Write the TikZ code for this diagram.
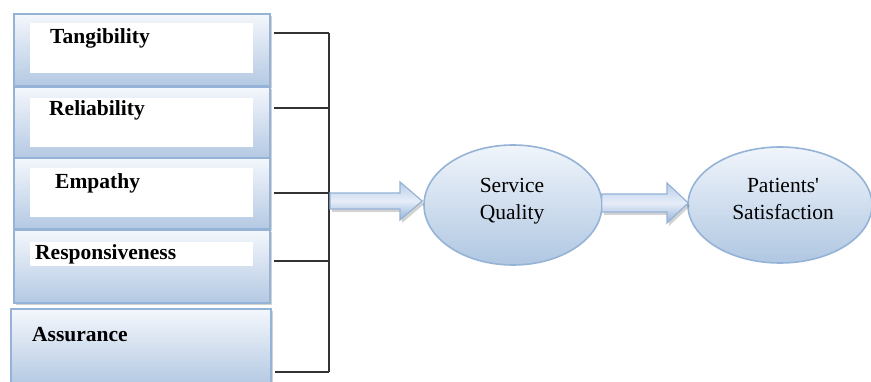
\documentclass[tikz,border=0pt]{standalone}
\usepackage{fontspec}
\setmainfont{Liberation Serif}
\usetikzlibrary{calc,shadows}
\definecolor{bordblue}{HTML}{95B3D7}
\definecolor{filltop}{HTML}{F4F7FC}
\definecolor{fillbot}{HTML}{B4C9E3}
\definecolor{elltop}{HTML}{F0F5FB}
\definecolor{ellbot}{HTML}{B0C7E2}
\definecolor{arrtop}{HTML}{B9CEE9}
\definecolor{arrmid}{HTML}{E6EDF8}
\definecolor{arrbot}{HTML}{95B3DA}
\tikzset{
  outerbox/.style={draw=bordblue, line width=1.6pt, top color=filltop, bottom color=fillbot,
     rectangle, inner sep=0pt, anchor=north west,
     drop shadow={opacity=0.35, shadow xshift=2pt, shadow yshift=-2pt}},
  innerbox/.style={fill=white, draw=none, rectangle, inner sep=0pt, anchor=north west},
  lbl/.style={font=\fontsize{21.5}{24}\selectfont\bfseries, inner sep=0pt, anchor=west},
  ellnode/.style={ellipse, draw=bordblue, line width=1.6pt, top color=elltop, bottom color=ellbot,
     inner sep=0pt},
  elltext/.style={font=\fontsize{21.5}{27}\selectfont, align=center, inner sep=0pt},
  bracket/.style={draw=black!80, line width=1.3pt},
  blockarrow/.style={draw=bordblue, line width=1.2pt, top color=arrtop, bottom color=arrbot, middle color=arrmid,
     drop shadow={opacity=0.35, shadow xshift=2pt, shadow yshift=-3pt}},
}
\usetikzlibrary{shapes.geometric}
\begin{document}
\begin{tikzpicture}[x=1pt,y=-1pt]
\useasboundingbox (0,0) rectangle (871,382);
\fill[white] (0,0) rectangle (871,382);

% boxes
\node[outerbox, minimum width=256pt, minimum height=72pt] (b1) at (13,13) {};
\node[innerbox, minimum width=223pt, minimum height=50pt] (w1) at (30,23) {};
\node[lbl] (t1) at (50,38) {Tangibility};

\node[outerbox, minimum width=256pt, minimum height=71pt] (b2) at (13,86) {};
\node[innerbox, minimum width=223pt, minimum height=49pt] (w2) at (30,98) {};
\node[lbl] (t2) at (49,110) {Reliability};

\node[outerbox, minimum width=256pt, minimum height=71pt] (b3) at (13,157) {};
\node[innerbox, minimum width=223pt, minimum height=49pt] (w3) at (30,168) {};
\node[lbl] (t3) at (55,183) {Empathy};

\node[outerbox, minimum width=256pt, minimum height=73pt] (b4) at (13,229) {};
\node[innerbox, minimum width=223pt, minimum height=24pt] (w4) at (30,242) {};
\node[lbl] (t4) at (35,254) {Responsiveness};

\node[outerbox, minimum width=260pt, minimum height=76pt] (b5) at (10,308) {};
\node[lbl] (t5) at (32,335) {Assurance};

% bracket
\coordinate (j1) at (329,33);
\coordinate (j2) at (329,108);
\coordinate (j3) at (329,193);
\coordinate (j4) at (329,261);
\coordinate (j5) at (329,372);
\draw[bracket] ([xshift=3pt]b1.east |- j1) -- (j1);
\draw[bracket] ([xshift=3pt]b2.east |- j2) -- (j2);
\draw[bracket] ([xshift=3pt]b3.east |- j3) -- (j3);
\draw[bracket] ([xshift=3pt]b4.east |- j4) -- (j4);
\draw[bracket] ([xshift=3pt]b5.east |- j5) -- (j5);
\draw[bracket] (j1) -- (j5);

% ellipses
\node[ellnode, minimum width=178pt, minimum height=120pt] (sq) at (513,205) {};
\node[elltext] (sqt) at (512,201) {Service\\Quality};
\node[ellnode, minimum width=184pt, minimum height=116pt] (ps) at (780,205) {};
\node[elltext] (pst) at (783,199) {Patients\textquotesingle\\Satisfaction};

% arrow 1
\coordinate (a1s) at (330,201);
\coordinate (a1h) at (400,201);
\coordinate (a1e) at (sq.west |- a1s);
\path[blockarrow] ($(a1s)+(0,-8)$) -- ($(a1h)+(0,-8)$) -- ($(a1h)+(0,-19)$) -- ($(a1e)+(-1,0)$)
  -- ($(a1h)+(0,19)$) -- ($(a1h)+(0,8)$) -- ($(a1s)+(0,8)$) -- cycle;

% arrow 2
\coordinate (a2s) at ($(sq.east)+(-1,-2)$);
\coordinate (a2h) at (667,203);
\coordinate (a2e) at (ps.west |- a2s);
\path[blockarrow] ($(a2s)+(0,-9)$) -- ($(a2h |- a2s)+(0,-9)$) -- ($(a2h |- a2s)+(0,-20)$) -- ($(a2e)+(1,0)$)
  -- ($(a2h |- a2s)+(0,20)$) -- ($(a2h |- a2s)+(0,9)$) -- ($(a2s)+(0,9)$) -- cycle;
\end{tikzpicture}
\end{document}
